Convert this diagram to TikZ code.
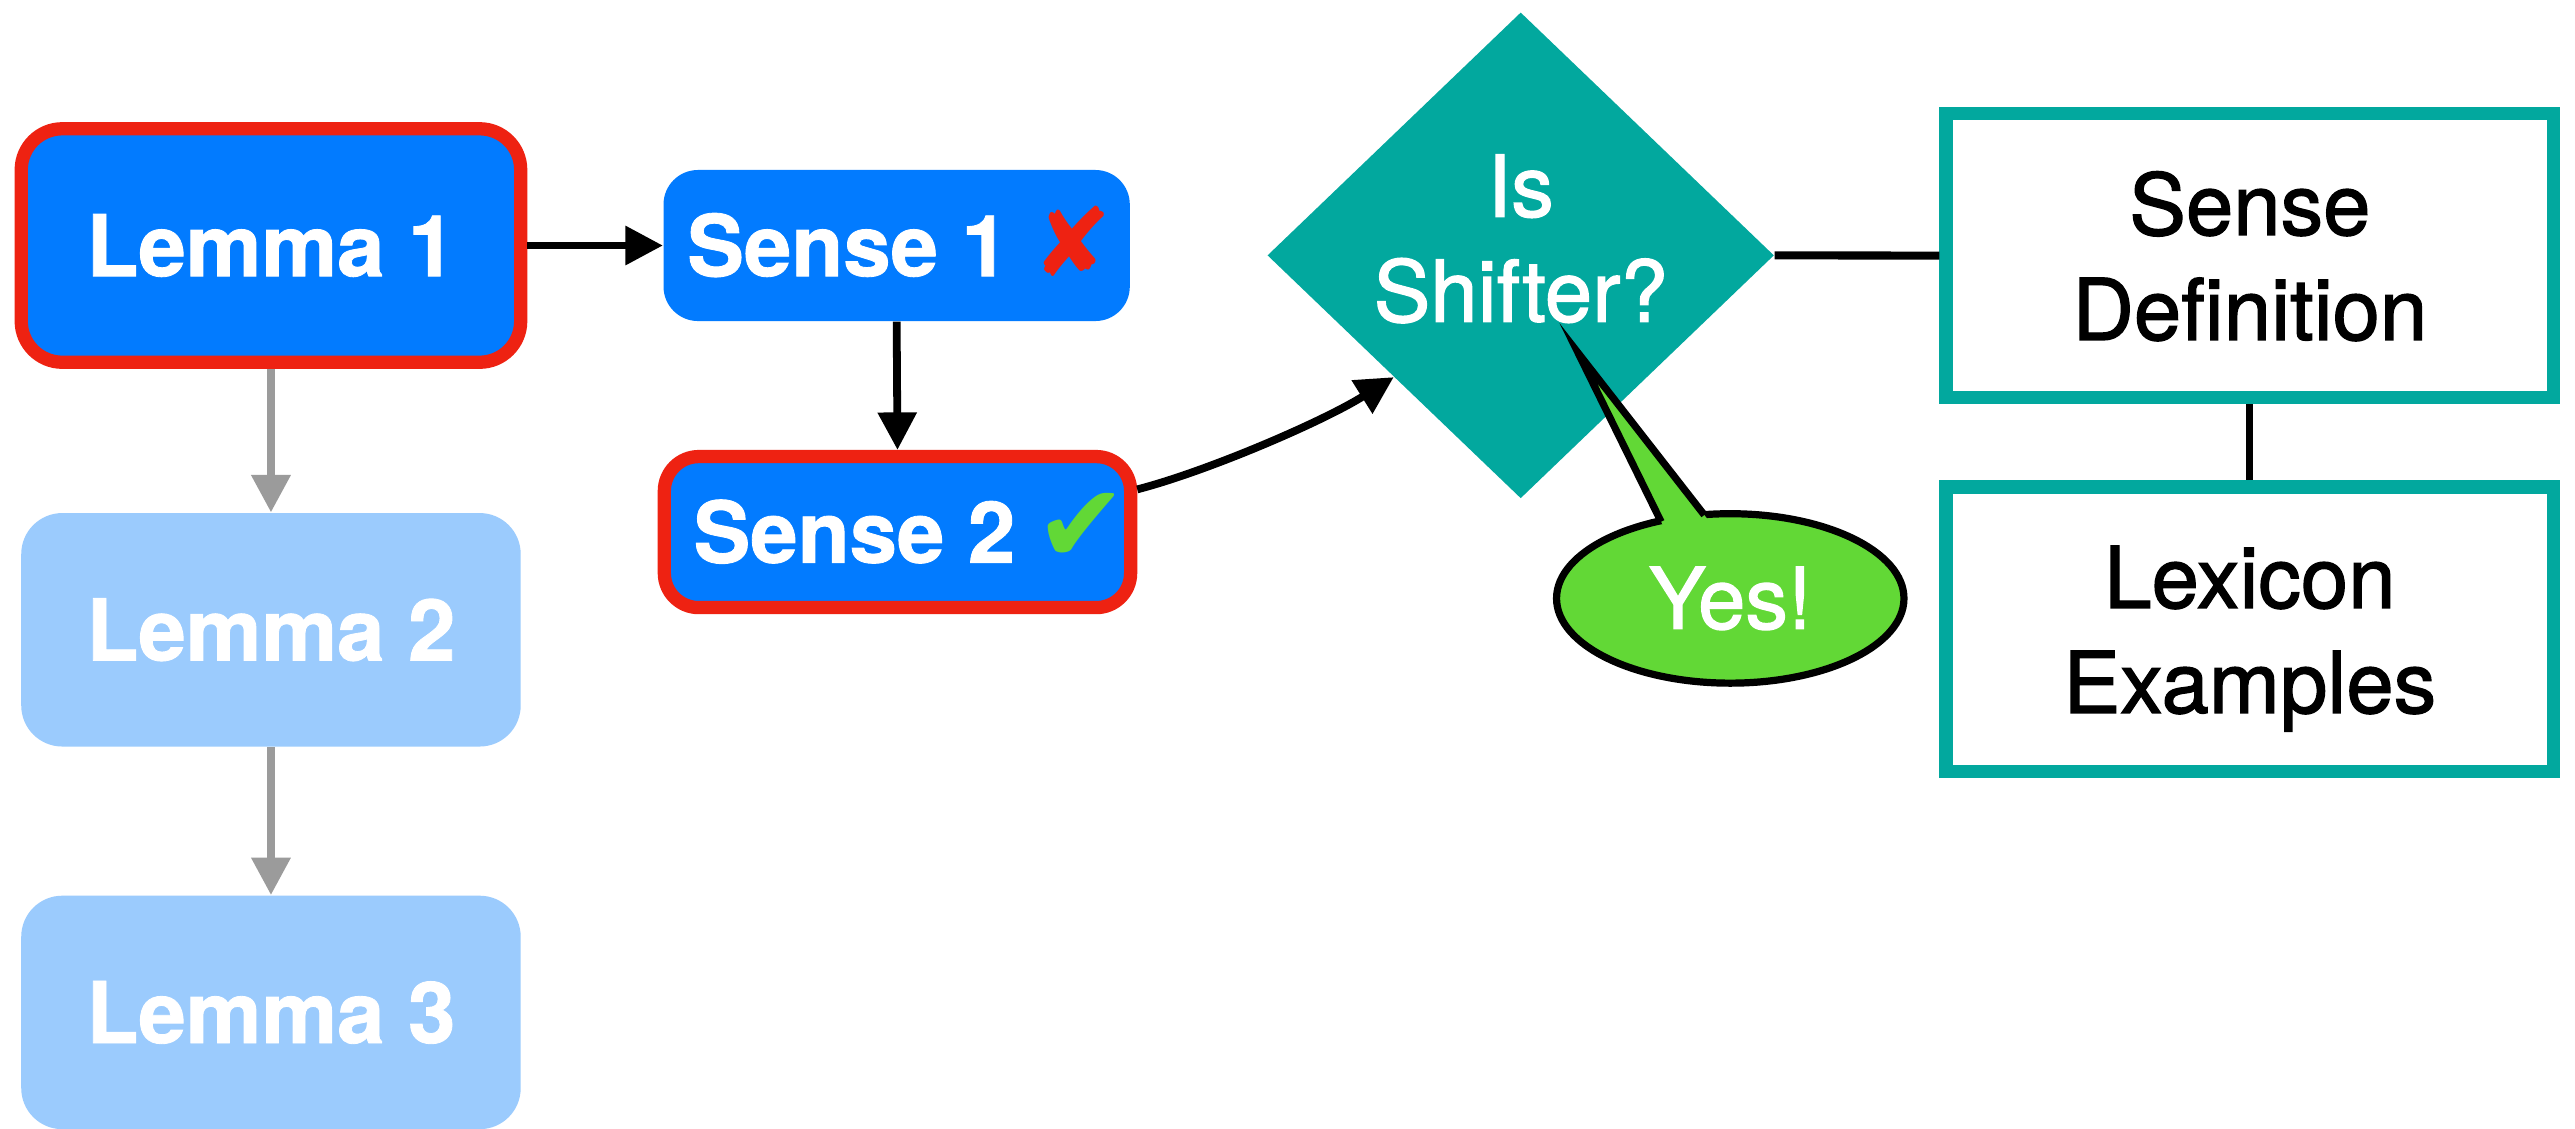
\documentclass[tikz,border=0pt]{standalone}
\usepackage{fontspec}
\setmainfont{TeX Gyre Heros}
\newfontfamily\medfont{TeX Gyre Heros}[FakeBold=1.5]
\newfontfamily\heavyfont{TeX Gyre Heros}[FakeBold=1.0]
\newfontfamily\symfont{DejaVu Sans}
\usetikzlibrary{shapes.geometric,arrows.meta}
\definecolor{iosblue}{HTML}{027BFF}
\definecolor{lightblue}{HTML}{9BCBFD}
\definecolor{redb}{HTML}{EE2212}
\definecolor{tealb}{HTML}{02A89E}
\definecolor{greenb}{HTML}{62D836}
\definecolor{grayarrow}{HTML}{9B9B9B}
\begin{document}
\begin{tikzpicture}[x=0.02cm,y=-0.02cm,
  boldtext/.style={font=\fontsize{29.5pt}{36.4pt}\heavyfont\bfseries, text=white, text height=21.2pt, text depth=0pt},
  regtext/.style={font=\fontsize{29.5pt}{36.4pt}\medfont},
  lemmabox/.style={rectangle, rounded corners=0.5cm, inner sep=0pt, minimum width=6.084cm, minimum height=2.844cm, boldtext},
  sensebox/.style={rectangle, rounded corners=0.42cm, inner sep=0pt, minimum width=5.68cm, minimum height=1.84cm, fill=iosblue, boldtext},
  chosen/.style={draw=redb, line width=4.6pt},
  infobox/.style={rectangle, draw=tealb, line width=4.6pt, fill=white, inner sep=0pt, minimum width=7.4cm, align=center, regtext, text depth=0pt},
  conn/.style={line width=2.7pt, draw=black},
  blackarrow/.style={conn, -{Triangle[length=13pt,width=13pt]}},
  grayarr/.style={line width=2.9pt, draw=grayarrow, -{Triangle[length=13pt,width=13pt]}},
  bubble/.style={ellipse, fill=greenb, draw=black, line width=2.5pt, inner sep=0pt, minimum width=4.232cm, minimum height=2.064cm, regtext, text=white}
]
\fill[white] (0,0) rectangle (1568,686.9);
\useasboundingbox (0,0) rectangle (1568,686.9);

% lemmas
\node[lemmabox, fill=iosblue, chosen] (l1) at (165,149.5) {Lemma 1};
\node[lemmabox, fill=lightblue] (l2) at (165,383.5) {Lemma 2};
\node[lemmabox, fill=lightblue] (l3) at (165,616.5) {Lemma 3};

% senses
\node[sensebox] (s1) at (546,149.5) {\hspace{2pt}Sense 1\hspace{8pt}{\fontsize{33pt}{36pt}\symfont\color{redb}✘}};
\node[sensebox, chosen] (s2) at (546.5,324) {\hspace{9pt}Sense 2\hspace{7pt}{\fontsize{38pt}{40pt}\symfont\color{greenb}✔}};

% decision
\node[diamond, fill=tealb, inner sep=0pt, minimum width=6.172cm, minimum height=5.92cm] (isq) at (926,155.5) {};
\node[regtext, text=white, align=center, inner sep=0pt, text depth=0pt] (isqt) at (926,145) {Is\\Shifter?};

% info boxes
\node[infobox, minimum height=3.454cm] (sd) at (1370,155.65) {Sense\\Definition};
\node[infobox, minimum height=3.47cm] (lx) at (1370,383.25) {Lexicon\\Examples};

% connectors
\draw[grayarr] (l1.south) -- (l2.north);
\draw[grayarr] (l2.south) -- (l3.north);
\draw[blackarrow] (l1.east) -- (s1.west);
\draw[blackarrow] (s1.south) -- (s2.north);
\draw[blackarrow] ([yshift=0.52cm]s2.east) .. controls (735,287) and (805,257) .. (isq.south west);
\draw[conn, line width=2.8pt] (isq.east) -- (sd.west);
\draw[conn, line width=2.4pt] (sd.south) -- (lx.north);

% callout
\node[bubble] (yes) at (1053.6,364.4) {Yes!};
\coordinate (tailtip) at (961,215);
\coordinate (tailb1) at (1011.5,317.7);
\coordinate (tailb2) at (1037.8,313.6);
\coordinate (tailb1x) at (1013.3,321.3);
\coordinate (tailb2x) at (1040.3,316.8);
\fill[greenb] (tailtip) -- (tailb1x) -- (tailb2x) -- cycle;
\draw[black, line width=2.5pt] (tailb1) -- (tailtip) -- (tailb2);
\end{tikzpicture}
\end{document}
